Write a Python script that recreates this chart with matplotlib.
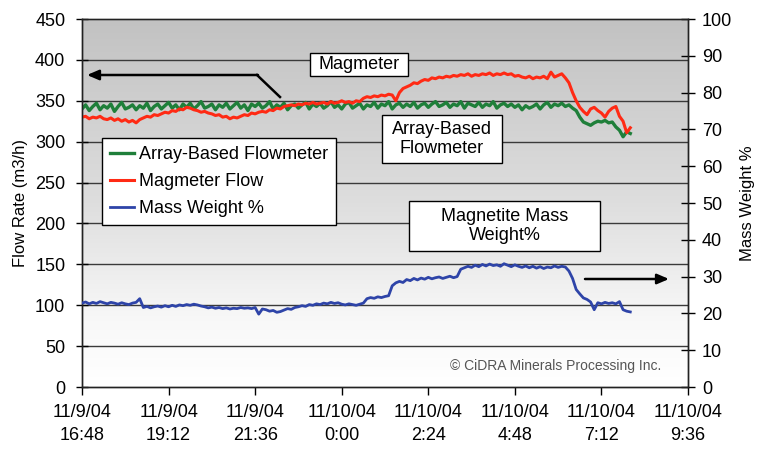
import matplotlib
matplotlib.use('Agg')
import matplotlib.pyplot as plt
from matplotlib.lines import Line2D
from matplotlib.patches import Rectangle
from matplotlib.colors import LinearSegmentedColormap
import numpy as np
import datetime as dt

plt.rcParams['font.family'] = ['Liberation Sans', 'DejaVu Sans']

# ---------------- data ----------------
start_time = dt.datetime(2004, 11, 9, 16, 48)
sample_step_hours = 0.1

array_flow = [
    340, 345, 338, 343, 347, 339, 344, 341, 346, 337, 343, 348, 340, 342, 345, 339, 344, 341, 347, 338,
    343, 346, 340, 344, 348, 341, 345, 339, 346, 342, 347, 340, 344, 349, 341, 343, 346, 339, 345, 342,
    347, 340, 344, 348, 341, 345, 338, 346, 343, 347, 341, 344, 349, 340, 345, 342, 347, 339, 344, 346,
    341, 345, 348, 340, 346, 343, 347, 341, 344, 349, 342, 345, 340, 346, 348, 341, 344, 347, 340, 345,
    343, 348, 341, 346, 344, 349, 340, 345, 347, 342, 346, 343, 348, 341, 345, 347, 342, 346, 349, 343,
    345, 348, 342, 346, 344, 349, 341, 347, 345, 343, 348, 342, 346, 344, 349, 341, 345, 347, 343, 346,
    342, 345, 339, 344, 341, 343, 346, 340, 345, 348, 342, 346, 344, 347, 343, 345, 341,
    338, 330, 324, 322, 320, 323, 325, 324, 326, 323, 324, 318, 314, 306, 312, 310,
]

magmeter_flow = [
    330, 331, 328, 330, 329, 331, 328, 327, 329, 326, 328, 325, 327, 324, 326,
    323, 327, 329, 331, 330, 333, 332,
    334, 336, 335, 338, 337, 340, 339, 342, 341,
    339, 338, 336, 337, 335,
    334, 332, 333, 330, 331, 328, 330, 329,
    331, 333, 332, 335, 334, 336,
    337, 336, 339, 338, 341, 340, 343, 344,
    345, 344, 346, 345, 347, 346, 348, 346, 347,
    348, 346, 349, 347, 348, 350, 348, 349, 347, 350, 349,
    353, 355, 354, 356, 355, 357, 356, 358, 357,
    350,
    360, 365, 367, 369, 372, 371, 374, 376, 375, 378, 377, 379, 378,
    380, 379, 381, 380, 382, 381, 383, 380, 382, 381, 383, 382, 384, 381, 383, 382,
    384, 382, 383, 380, 381, 379, 378, 380, 377, 379, 378, 380, 377, 385, 379, 381, 383, 378,
    372, 360, 350, 342, 337, 333, 340, 342, 338, 335, 330, 337, 341, 343, 331, 325, 311, 317,
]

mass_weight = [
    22.8, 23.1, 22.6, 23.0, 22.7, 23.2, 22.9, 22.6, 23.0, 22.8, 22.5, 22.9, 22.6, 22.4, 22.8, 23.0,
    24.0,
    21.6, 21.9, 21.5, 21.8, 22.0, 21.7, 22.1, 21.8, 22.2, 21.9, 22.3, 22.1, 22.4, 22.2, 22.5,
    22.3, 22.0, 21.8, 21.5, 21.7, 21.4, 21.6, 21.3, 21.5, 21.2, 21.4, 21.3, 21.6, 21.4, 21.5, 21.3, 21.6,
    19.8,
    21.2, 21.0, 20.6, 20.8, 20.3, 20.5, 20.9, 21.3, 21.1, 21.6,
    21.8, 22.1, 21.9, 22.4, 22.2, 22.6, 22.4, 22.8, 22.6, 23.0, 22.7, 22.9, 22.5, 22.3, 22.6, 22.4, 22.2, 22.5, 22.8,
    24.0, 24.3, 24.1, 24.5, 24.3, 24.6, 24.8,
    27.5, 28.3, 28.7, 28.4, 29.2, 28.9, 29.5, 29.1, 29.6, 29.3, 29.8, 29.4, 29.7, 29.9, 29.5, 29.8, 30.1, 29.7, 30.0,
    32.0, 32.4, 32.8, 32.5, 33.1, 32.7, 33.3, 32.9, 33.4, 33.0, 33.2, 32.8, 33.5, 33.1, 32.7, 33.2, 32.8, 32.5,
    32.9, 32.4, 32.8, 32.3, 32.7, 32.2, 32.6, 32.4, 32.9, 32.5, 32.8, 32.6, 31.5,
    29.5, 26.5, 25.3, 24.2, 23.8, 23.1, 21.0, 22.9, 22.6, 23.0, 22.7, 22.9, 22.6, 23.2, 21.0, 20.6, 20.4,
]

series_labels = ['Array-Based Flowmeter', 'Magmeter Flow', 'Mass Weight %']
tick_labels = ['11/9/04\n16:48', '11/9/04\n19:12', '11/9/04\n21:36', '11/10/04\n0:00',
               '11/10/04\n2:24', '11/10/04\n4:48', '11/10/04\n7:12', '11/10/04\n9:36']
flow_ticks = [0, 50, 100, 150, 200, 250, 300, 350, 400, 450]
mass_ticks = [0, 10, 20, 30, 40, 50, 60, 70, 80, 90, 100]

# ---------------- figure ----------------
W, H = 759, 450
fig = plt.figure(figsize=(W / 100, H / 100), dpi=100)

def fx(px):
    return px / W

def fy(py):
    return 1 - py / H

L, R, T, B = 82, 688, 19, 387
pos = [fx(L), fy(B), (R - L) / W, (B - T) / H]

# gradient background
bg = fig.add_axes(pos, zorder=-1)
grad = np.linspace(0, 1, 256).reshape(-1, 1)
cmap = LinearSegmentedColormap.from_list('g', [(0, '#c2c2c2'), (0.5, '#dedede'), (0.82, '#f8f8f8'), (1, '#ffffff')])
bg.imshow(grad, aspect='auto', cmap=cmap, extent=[0, 1, 0, 1], origin='upper')
bg.set_axis_off()

ax = fig.add_axes(pos, zorder=0)
ax.patch.set_visible(False)
ax2 = ax.twinx()

times = [start_time + dt.timedelta(hours=i * sample_step_hours) for i in range(len(magmeter_flow))]
times_g = [start_time + dt.timedelta(hours=i * sample_step_hours) for i in range(len(array_flow))]
times_b = [start_time + dt.timedelta(hours=i * sample_step_hours) for i in range(len(mass_weight))]

l1, = ax.plot(times_g, array_flow, color='#1f7f3a', lw=2.4, label=series_labels[0], zorder=3)
l2, = ax.plot(times, magmeter_flow, color='#ff2a14', lw=2.2, label=series_labels[1], zorder=4)
l3, = ax2.plot(times_b, mass_weight, color='#2e44a8', lw=2.0, label=series_labels[2], zorder=3)

tick_times = [start_time + dt.timedelta(hours=2.4 * i) for i in range(len(tick_labels))]
ax.set_xlim(tick_times[0], tick_times[-1])
ax.set_xticks(tick_times)
ax.set_xticklabels(tick_labels, fontsize=13, linespacing=1.5)
ax.set_ylim(0, 450)
ax.set_yticks(flow_ticks)
ax.tick_params(axis='y', labelsize=13, direction='inout', length=8, width=1, pad=8)
ax.tick_params(axis='x', direction='out', length=6, width=1, pad=6)
ax2.set_ylim(0, 100)
ax2.set_yticks(mass_ticks)
ax2.tick_params(axis='y', labelsize=13, direction='inout', length=10, width=1, pad=5)

for y in flow_ticks[1:-1]:
    ax.axhline(y, color='#3a3a3a', lw=1.0, zorder=1)

for a in (ax, ax2):
    for s in a.spines.values():
        s.set_color('#222222')
        s.set_linewidth(1)
ax.spines['top'].set_color('#555555')

ax.set_ylabel('Flow Rate (m3/h)', fontsize=12, labelpad=5)
ax2.set_ylabel('Mass Weight %', fontsize=12, labelpad=6, rotation=90)

leg = ax2.legend(handles=[l1, l2, l3], loc='upper left', bbox_to_anchor=((102 - L) / (R - L), (B - 138) / (B - T)),
                 borderaxespad=0, fontsize=13, frameon=True, fancybox=False, framealpha=1,
                 edgecolor='black', handlelength=1.3, handletextpad=0.3, labelspacing=0.55,
                 borderpad=0.45)
leg.get_frame().set_linewidth(1)

# annotation boxes
def box(x0, y0, x1, y1, text):
    fig.add_artist(Rectangle((fx(x0), fy(y1)), fx(x1) - fx(x0), fy(y0) - fy(y1),
                             transform=fig.transFigure, fc='white', ec='black', lw=1, zorder=10))
    fig.text(fx((x0 + x1) / 2), fy((y0 + y1) / 2), text, ha='center', va='center',
             fontsize=13, zorder=11, linespacing=1.2)

box(310, 53, 408, 76, 'Magmeter')
box(382, 115, 502, 163, 'Array-Based\nFlowmeter')
box(409, 201, 600, 251, 'Magnetite Mass\nWeight%')

# arrows
fig.add_artist(Line2D([fx(280), fx(257)], [fy(97), fy(75)], transform=fig.transFigure,
                      color='black', lw=1.8, zorder=9))
fig.add_artist(plt.Annotation('', xy=(fx(87), fy(75)), xytext=(fx(258), fy(75)),
                              xycoords='figure fraction', textcoords='figure fraction',
                              arrowprops=dict(arrowstyle='-|>,head_length=0.7,head_width=0.3',
                                              color='black', lw=1.8, shrinkA=0, shrinkB=0)))
fig.add_artist(plt.Annotation('', xy=(fx(669), fy(279)), xytext=(fx(585), fy(279)),
                              xycoords='figure fraction', textcoords='figure fraction',
                              arrowprops=dict(arrowstyle='-|>,head_length=0.7,head_width=0.3',
                                              color='black', lw=1.8, shrinkA=0, shrinkB=0)))

fig.text(fx(556), fy(366), '\u00a9 CiDRA Minerals Processing Inc.', ha='center', va='center',
         fontsize=10, color='#555555')

fig.savefig('out.png', dpi=100)
